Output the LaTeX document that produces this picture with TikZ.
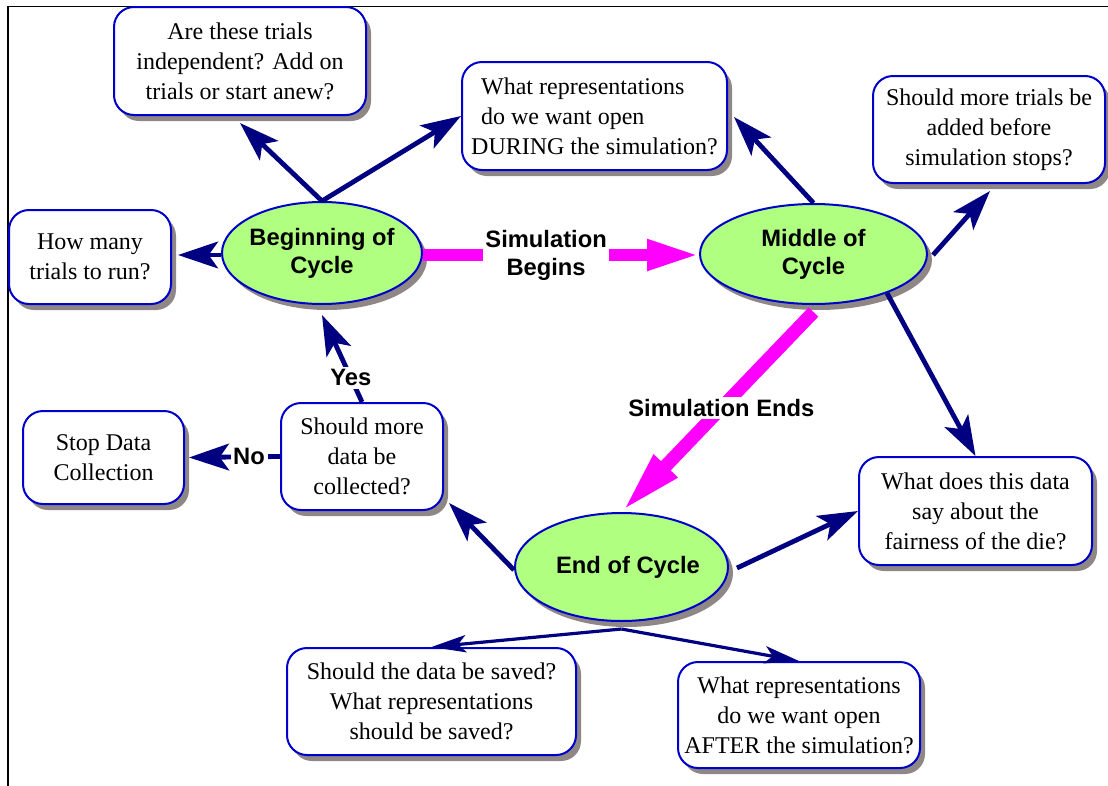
\documentclass[tikz,border=0pt]{standalone}
\usepackage{fontspec}
\setmainfont{Liberation Serif}
\setsansfont{Liberation Sans}
\usetikzlibrary{arrows.meta,shapes.geometric,shadows,calc}
\definecolor{navyc}{RGB}{0,0,128}
\definecolor{bluec}{RGB}{0,0,204}
\definecolor{greenc}{RGB}{176,255,128}
\definecolor{shadowc}{RGB}{143,134,134}
\definecolor{magc}{RGB}{255,0,255}
\newcommand{\qbfont}{\fontsize{18pt}{22.5pt}\selectfont}
\newcommand{\lbfont}{\fontsize{17.8pt}{21pt}\selectfont\sffamily\bfseries}
\tikzset{
  myshadow/.style={drop shadow={opacity=1, fill=shadowc, shadow xshift=3.75pt, shadow yshift=-4.5pt}},
  qbox/.style={draw=bluec, line width=1.5pt, fill=white, rounded corners=15pt,
    align=center, inner sep=0pt, font=\qbfont, myshadow},
  phase/.style={ellipse, draw=bluec, line width=1.5pt, fill=greenc, inner sep=0pt,
    inner xsep=-10pt, align=center, font=\lbfont, myshadow},
  arr/.style={draw=navyc, line width=3.6pt, -{Stealth[length=30pt,width=20pt,inset=7pt]}},
  arrthin/.style={draw=navyc, line width=2.4pt, -{Stealth[length=26pt,width=13pt,inset=6pt]}},
  marr/.style={draw=magc, line width=8.5pt, -{Triangle[length=39pt,width=21.5pt]}},
  marrb/.style={draw=magc, line width=10pt, -{Triangle[length=48pt,width=22pt]}},
  lbl/.style={fill=white, font=\lbfont, align=center, inner sep=2pt, text=black},
}
\begin{document}
\begin{tikzpicture}[x=0.75pt,y=-0.75pt]
\useasboundingbox (0,0) rectangle (1108,786);
% frame
\draw[line width=1.2pt] (8,786) -- (8,6.5) -- (1108,6.5);

% question boxes
\node[qbox, minimum width=189pt, minimum height=81pt] (q1) at (240,61)
  {Are these trials\\independent? Add on\\trials or start anew?};
\node[qbox, minimum width=121.5pt, minimum height=70.5pt] (q2) at (90,257)
  {How many\\trials to run?};
\node[qbox, minimum width=198.75pt, minimum height=81pt, align=left] (q3) at (594.5,116)
  {\hspace*{7.5pt}What representations\\\hspace*{7.5pt}do we want open\\DURING the simulation?};
\node[qbox, minimum width=174pt, minimum height=80.25pt] (q4) at (989,129.5)
  {Should more trials be\\added before\\simulation stops?};
\node[qbox, minimum width=120.75pt, minimum height=69.75pt] (q5) at (103.5,457.5)
  {Stop Data\\Collection};
\node[qbox, minimum width=121.5pt, minimum height=80.25pt] (q6) at (362,456.5)
  {Should more\\data be\\collected?};
\node[qbox, minimum width=174.75pt, minimum height=81pt] (q7) at (975.5,511)
  {What does this data\\say about the\\fairness of the die?};
\node[qbox, minimum width=216.75pt, minimum height=80.25pt] (q8) at (431.5,701.5)
  {Should the data be saved?\\What representations\\should be saved?};
\node[qbox, minimum width=181.5pt, minimum height=79.5pt] (q9) at (799,715)
  {What representations\\do we want open\\AFTER the simulation?};

% phases
\node[phase, minimum width=150pt, minimum height=76.5pt] (beginc) at (322,253)
  {Beginning of\\Cycle};
\node[phase, minimum width=170.25pt, minimum height=75pt] (midc) at (813.5,254)
  {Middle of\\Cycle};
\node[phase, minimum width=159.75pt, minimum height=81pt] (endc) at (621.5,567)
  {\hspace*{9.75pt}End of Cycle};

% navy arrows
\draw[arr] (beginc.north) -- ($(q1.south)+(0,7)$);
\draw[arr] (beginc.north) -- (q3.west);
\draw[arr] ($(beginc.west)+(0,2)$) -- ($(q2.east)+(6,-2)$);
\draw[arr] (midc.north) -- ($(q3.east)+(6,1)$);
\draw[arr] ($(midc.east)+(5,1)$) -- ($(q4.south)+(1,7)$);
\draw[arr] (midc.-28) -- (q7.north);
\draw[arr] ($(endc.east)+(8,1)$) -- (q7.west);
\draw[arr] ($(endc.west)+(0,3)$) -- ($(q6.south east)+(5,-8)$);
\draw[arrthin] ($(endc.south)+(0,7)$) -- (q8.north);
\draw[arrthin] ($(endc.south)+(0,7)$) -- (q9.north);
\draw[arr] (q6.north) -- node[lbl, pos=0.28] {Yes} ($(beginc.south)+(0,10)$);
\draw[arr] (q6.west) -- node[lbl, pos=0.34] {No} ($(q5.east)+(4,0)$);

% magenta arrows
\draw[marr] ($(beginc.east)+(0,2)$) -- node[lbl, pos=0.446] {Simulation\\Begins} ($(midc.west)+(0,1)$);
\draw[marrb] ($(midc.south)+(0,7)$) -- node[lbl, pos=0.48] {Simulation Ends} (endc.north);
\end{tikzpicture}
\end{document}
